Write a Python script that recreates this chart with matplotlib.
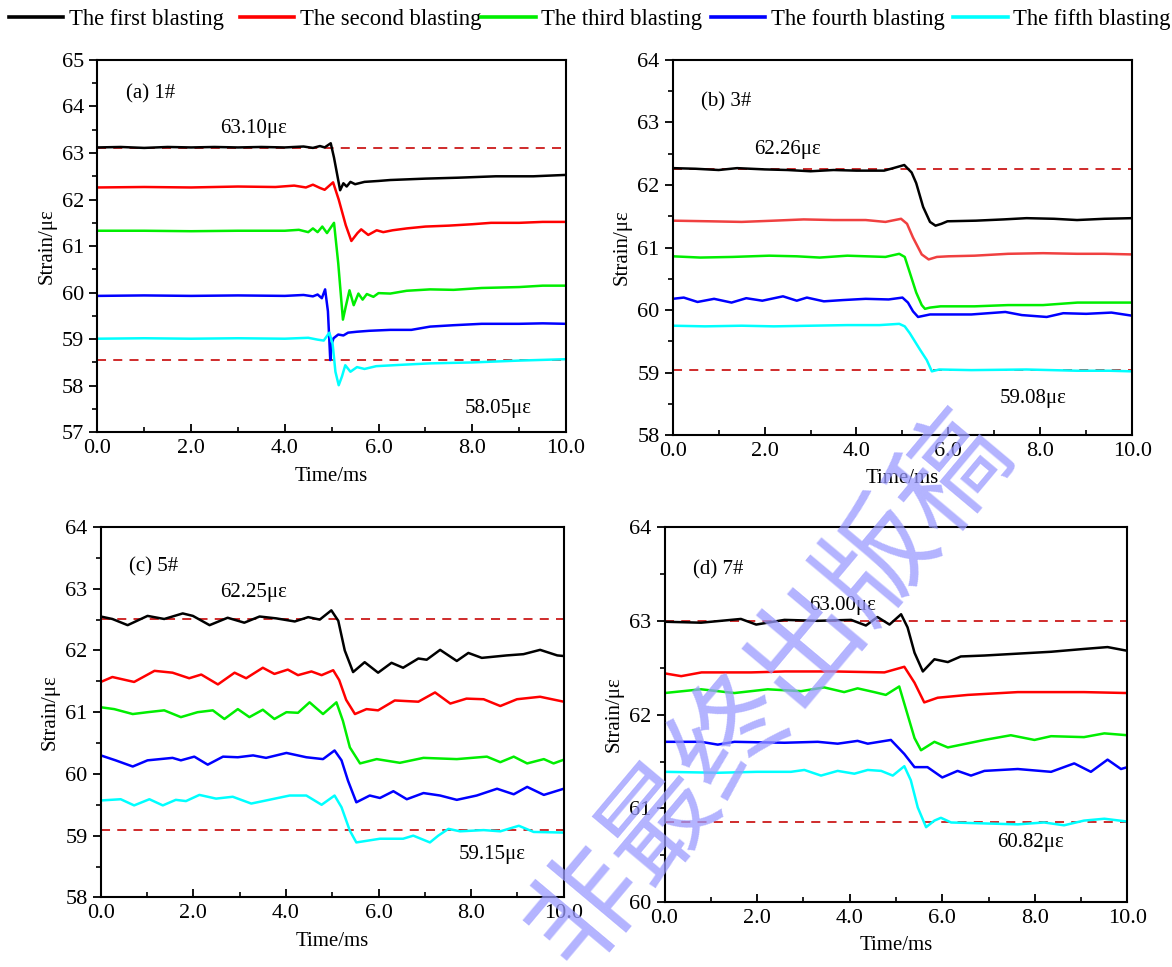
import matplotlib
matplotlib.use("Agg")
import matplotlib.pyplot as plt
from matplotlib.ticker import MultipleLocator, FormatStrFormatter

plt.rcParams["font.family"] = ["Liberation Serif", "DejaVu Serif"]

# ── Legend / series names ─────────────────────────────────────────────────────
SERIES = ["The first blasting", "The second blasting", "The third blasting",
          "The fourth blasting", "The fifth blasting"]
COLORS = ["#000000", "#ff0000", "#00ee00", "#0000ff", "#00ffff"]

# ── (a) 1# ───────────────────────────────────────────────────────────────────
a_black_t = [0, 0.5, 1, 1.5, 2, 2.5, 3, 3.5, 4, 4.4, 4.6, 4.75, 4.85, 4.98, 5.05, 5.18,
             5.25, 5.32, 5.4, 5.5, 5.7, 6.0, 6.25, 7.0, 7.7, 8.5, 9.3, 10]
a_black_v = [63.12, 63.13, 63.11, 63.13, 63.12, 63.13, 63.12, 63.13, 63.12, 63.14, 63.11,
             63.15, 63.12, 63.21, 62.9, 62.2, 62.35, 62.28, 62.38, 62.33, 62.38, 62.4,
             62.42, 62.45, 62.47, 62.5, 62.5, 62.53]
a_red_t = [0, 1, 2, 3, 3.8, 4.2, 4.45, 4.6, 4.75, 4.85, 5.03, 5.15, 5.3, 5.42, 5.55, 5.63,
           5.78, 5.96, 6.1, 6.3, 6.6, 7.0, 7.5, 8.0, 8.4, 9.0, 9.5, 10]
a_red_v = [62.26, 62.27, 62.26, 62.28, 62.27, 62.3, 62.26, 62.32, 62.25, 62.21, 62.37,
           62.0, 61.45, 61.11, 61.28, 61.36, 61.24, 61.34, 61.3, 61.34, 61.38, 61.42,
           61.44, 61.47, 61.5, 61.5, 61.52, 61.52]
a_green_t = [0, 1, 2, 3, 4, 4.3, 4.5, 4.6, 4.7, 4.8, 4.9, 5.05, 5.14, 5.2, 5.24, 5.3,
             5.38, 5.47, 5.57, 5.66, 5.75, 5.89, 6.0, 6.25, 6.6, 7.1, 7.6, 8.2, 9, 9.5, 10]
a_green_v = [61.33, 61.33, 61.32, 61.33, 61.33, 61.35, 61.3, 61.38, 61.3, 61.42, 61.28,
             61.5, 60.63, 59.9, 59.42, 59.7, 60.05, 59.73, 59.98, 59.85, 59.97, 59.91,
             59.99, 59.98, 60.04, 60.07, 60.06, 60.1, 60.12, 60.15, 60.15]
a_blue_t = [0, 1, 2, 3, 4, 4.4, 4.6, 4.7, 4.79, 4.86, 4.92, 4.97, 5.0, 5.04, 5.14, 5.25,
            5.35, 5.54, 5.8, 6.25, 6.7, 7.1, 7.6, 8.2, 9, 9.5, 10]
a_blue_v = [59.93, 59.94, 59.93, 59.94, 59.93, 59.95, 59.92, 59.96, 59.88, 60.07, 59.6,
            58.55, 58.9, 59.02, 59.1, 59.08, 59.14, 59.16, 59.18, 59.2, 59.2, 59.27, 59.3,
            59.33, 59.33, 59.34, 59.33]
a_cyan_t = [0, 1, 2, 3, 4, 4.5, 4.7, 4.83, 4.95, 5.02, 5.08, 5.15, 5.22, 5.29, 5.4, 5.54,
            5.7, 5.95, 6.5, 7.1, 8, 9, 10]
a_cyan_v = [59.01, 59.02, 59.01, 59.02, 59.01, 59.03, 58.99, 58.97, 59.14, 58.9, 58.3,
            58.01, 58.2, 58.44, 58.3, 58.4, 58.36, 58.42, 58.45, 58.48, 58.5, 58.54, 58.57]
a_limits = [63.10, 58.55]

# ── (b) 3# ───────────────────────────────────────────────────────────────────
b_black_t = [0, 0.5, 1, 1.4, 2, 2.5, 3, 3.5, 4, 4.6, 4.8, 5.04, 5.2, 5.3, 5.45, 5.6, 5.72,
             5.85, 5.98, 6.6, 7.2, 7.7, 8.3, 8.8, 9.4, 10]
b_black_v = [62.27, 62.26, 62.24, 62.27, 62.25, 62.24, 62.22, 62.24, 62.23, 62.23, 62.27,
             62.32, 62.2, 62.03, 61.65, 61.41, 61.35, 61.38, 61.42, 61.43, 61.45, 61.47,
             61.46, 61.44, 61.46, 61.47]
b_red_t = [0, 0.8, 1.5, 2.2, 2.85, 3.5, 4.2, 4.63, 4.97, 5.1, 5.23, 5.42, 5.57, 5.75, 6,
           6.57, 7.3, 8.06, 8.8, 9.4, 10]
b_red_v = [61.43, 61.42, 61.41, 61.43, 61.45, 61.44, 61.44, 61.41, 61.46, 61.38, 61.16,
           60.89, 60.81, 60.85, 60.86, 60.87, 60.9, 60.91, 60.9, 60.9, 60.89]
b_green_t = [0, 0.6, 1.3, 2.1, 2.7, 3.2, 3.8, 4.63, 4.93, 5.05, 5.16, 5.3, 5.42, 5.49, 5.6,
             5.83, 6.57, 7.3, 8.06, 8.81, 9.4, 10]
b_green_v = [60.86, 60.84, 60.85, 60.87, 60.86, 60.84, 60.87, 60.85, 60.9, 60.85, 60.6,
             60.28, 60.08, 60.02, 60.04, 60.06, 60.06, 60.08, 60.08, 60.12, 60.12, 60.12]
b_blue_t = [0, 0.24, 0.54, 0.9, 1.28, 1.6, 1.95, 2.4, 2.7, 2.92, 3.29, 3.7, 4.2, 4.7, 5.0,
            5.12, 5.23, 5.34, 5.6, 6.5, 7.24, 7.6, 8.14, 8.5, 9, 9.55, 10]
b_blue_v = [60.18, 60.2, 60.13, 60.18, 60.12, 60.19, 60.15, 60.22, 60.15, 60.2, 60.14,
            60.16, 60.18, 60.17, 60.2, 60.12, 59.98, 59.89, 59.93, 59.93, 59.97, 59.92,
            59.89, 59.95, 59.94, 59.96, 59.91]
b_cyan_t = [0, 0.7, 1.5, 2.2, 3, 3.8, 4.5, 4.93, 5.05, 5.16, 5.38, 5.53, 5.64, 5.8, 6.5,
            7.7, 8.8, 9.5, 10]
b_cyan_v = [59.75, 59.74, 59.75, 59.74, 59.75, 59.76, 59.76, 59.78, 59.74, 59.63, 59.37,
            59.2, 59.02, 59.05, 59.04, 59.05, 59.03, 59.03, 59.02]
b_limits = [62.26, 59.04]

# ── (c) 5# ───────────────────────────────────────────────────────────────────
c_black_t = [0, 0.25, 0.58, 1.01, 1.37, 1.77, 1.99, 2.35, 2.74, 3.1, 3.43, 3.79, 4.19, 4.48,
             4.73, 4.98, 5.13, 5.27, 5.45, 5.7, 5.99, 6.28, 6.53, 6.86, 7.04, 7.33, 7.69,
             7.94, 8.23, 8.77, 9.13, 9.49, 9.86, 10]
c_black_v = [62.55, 62.51, 62.41, 62.56, 62.51, 62.6, 62.56, 62.41, 62.53, 62.45, 62.55,
             62.52, 62.47, 62.54, 62.5, 62.65, 62.48, 62.0, 61.65, 61.81, 61.64, 61.8,
             61.72, 61.87, 61.85, 62.01, 61.83, 61.96, 61.88, 61.92, 61.94, 62.01, 61.92,
             61.91]
c_red_t = [0, 0.25, 0.72, 1.16, 1.55, 1.91, 2.17, 2.53, 2.89, 3.14, 3.5, 3.75, 4.04, 4.26,
           4.55, 4.77, 5.02, 5.15, 5.3, 5.49, 5.74, 5.99, 6.35, 6.86, 7.22, 7.55, 7.9, 8.27,
           8.63, 8.99, 9.49, 10]
c_red_v = [61.49, 61.57, 61.49, 61.67, 61.64, 61.55, 61.61, 61.45, 61.64, 61.55, 61.72,
           61.62, 61.69, 61.6, 61.66, 61.6, 61.68, 61.52, 61.2, 60.97, 61.05, 61.03, 61.19,
           61.17, 61.32, 61.14, 61.22, 61.21, 61.1, 61.21, 61.25, 61.17]
c_green_t = [0, 0.29, 0.69, 1.01, 1.37, 1.73, 2.09, 2.42, 2.67, 2.96, 3.21, 3.5, 3.75, 4.01,
             4.26, 4.51, 4.8, 5.09, 5.23, 5.38, 5.6, 5.96, 6.46, 6.97, 7.69, 8.34, 8.63,
             8.92, 9.21, 9.57, 9.78, 10]
c_green_v = [61.08, 61.05, 60.97, 61.0, 61.03, 60.92, 61.0, 61.03, 60.89, 61.05, 60.92,
             61.04, 60.89, 61.0, 60.99, 61.16, 60.97, 61.16, 60.86, 60.43, 60.17, 60.24,
             60.18, 60.26, 60.24, 60.28, 60.19, 60.28, 60.17, 60.24, 60.17, 60.23]
c_blue_t = [0, 0.32, 0.69, 1.01, 1.55, 1.73, 2.02, 2.31, 2.64, 2.96, 3.29, 3.57, 4.01, 4.44,
            4.8, 5.05, 5.2, 5.34, 5.52, 5.81, 6.03, 6.32, 6.61, 6.97, 7.33, 7.69, 8.12, 8.56,
            8.92, 9.21, 9.57, 10]
c_blue_v = [60.3, 60.22, 60.12, 60.22, 60.26, 60.22, 60.28, 60.15, 60.28, 60.27, 60.3,
            60.26, 60.34, 60.27, 60.24, 60.38, 60.22, 59.89, 59.54, 59.65, 59.61, 59.72,
            59.59, 59.69, 59.65, 59.58, 59.65, 59.76, 59.67, 59.79, 59.66, 59.76]
c_cyan_t = [0, 0.43, 0.72, 1.05, 1.34, 1.62, 1.84, 2.13, 2.49, 2.85, 3.25, 3.57, 4.08, 4.44,
            4.77, 5.05, 5.2, 5.38, 5.52, 6.03, 6.53, 6.75, 7.11, 7.29, 7.51, 7.76, 8.27, 8.63,
            9.03, 9.35, 10]
c_cyan_v = [59.57, 59.59, 59.49, 59.59, 59.49, 59.58, 59.56, 59.66, 59.6, 59.63, 59.52,
            59.57, 59.65, 59.65, 59.5, 59.65, 59.46, 59.08, 58.89, 58.95, 58.95, 59.0, 58.89,
            59.0, 59.11, 59.07, 59.09, 59.07, 59.16, 59.06, 59.05]
c_limits = [62.51, 59.09]

# ── (d) 7# ───────────────────────────────────────────────────────────────────
d_black_t = [0, 0.79, 1.65, 1.98, 2.59, 3.31, 4.03, 4.35, 4.6, 4.86, 5.11, 5.25, 5.4, 5.58,
             5.83, 6.12, 6.4, 6.91, 7.63, 8.35, 9.06, 9.57, 10]
d_black_v = [62.99, 62.98, 63.02, 62.96, 63.01, 63.0, 63.01, 62.95, 63.04, 62.96, 63.07,
             62.93, 62.66, 62.46, 62.59, 62.56, 62.62, 62.63, 62.65, 62.67, 62.7, 62.72,
             62.68]
d_red_t = [0, 0.36, 0.8, 1.87, 2.6, 3.67, 4.75, 5.18, 5.4, 5.61, 5.9, 6.55, 7.63, 9.06, 10]
d_red_v = [62.44, 62.41, 62.45, 62.45, 62.46, 62.46, 62.45, 62.51, 62.34, 62.13, 62.18,
           62.21, 62.24, 62.24, 62.23]
d_green_t = [0, 0.79, 1.51, 2.23, 2.95, 3.45, 3.88, 4.17, 4.53, 4.78, 5.07, 5.22, 5.4, 5.54,
             5.83, 6.12, 6.91, 7.48, 7.99, 8.35, 9.06, 9.5, 10]
d_green_v = [62.23, 62.27, 62.23, 62.27, 62.25, 62.29, 62.24, 62.28, 62.24, 62.21, 62.3,
             62.05, 61.75, 61.62, 61.71, 61.65, 61.73, 61.78, 61.73, 61.77, 61.76, 61.8,
             61.78]
d_blue_t = [0, 0.79, 1.15, 1.51, 2.59, 3.31, 3.74, 4.17, 4.39, 4.89, 5.18, 5.4, 5.68, 6.0,
            6.33, 6.62, 6.91, 7.63, 8.35, 8.85, 9.21, 9.57, 9.86, 10]
d_blue_v = [61.71, 61.71, 61.68, 61.71, 61.7, 61.71, 61.69, 61.72, 61.69, 61.73, 61.58,
            61.44, 61.44, 61.33, 61.4, 61.35, 61.4, 61.42, 61.39, 61.48, 61.39, 61.52, 61.42,
            61.44]
d_cyan_t = [0, 1.15, 2.0, 2.73, 3.02, 3.38, 3.74, 4.1, 4.39, 4.68, 4.93, 5.18, 5.32, 5.47,
            5.65, 5.83, 5.97, 6.19, 6.91, 7.63, 8.2, 8.63, 9.06, 9.5, 10]
d_cyan_v = [61.39, 61.38, 61.39, 61.39, 61.41, 61.35, 61.4, 61.37, 61.41, 61.4, 61.35,
            61.45, 61.3, 61.01, 60.8, 60.87, 60.9, 60.85, 60.84, 60.83, 60.85, 60.82, 60.87,
            60.89, 60.86]
d_limits = [63.00, 60.86]

# ── Panel setup ──────────────────────────────────────────────────────────────
PANELS = [
    dict(tag="(a) 1#", ylim=(57, 65), limits=a_limits,
         curves=[(a_black_t, a_black_v), (a_red_t, a_red_v), (a_green_t, a_green_v),
                 (a_blue_t, a_blue_v), (a_cyan_t, a_cyan_v)],
         notes=[("63.10με", 3.33, 63.52), ("58.05με", 8.55, 57.52)],
         rect=[0.083, 0.553, 0.400, 0.385], tagy=0.91),
    dict(tag="(b) 3#", ylim=(58, 64), limits=b_limits,
         curves=[(b_black_t, b_black_v), (b_red_t, b_red_v), (b_green_t, b_green_v),
                 (b_blue_t, b_blue_v), (b_cyan_t, b_cyan_v)],
         notes=[("62.26με", 2.5, 62.57), ("59.08με", 7.85, 58.58)],
         rect=[0.574, 0.550, 0.392, 0.388], tagy=0.887, red="#f04040"),
    dict(tag="(c) 5#", ylim=(58, 64), limits=c_limits,
         curves=[(c_black_t, c_black_v), (c_red_t, c_red_v), (c_green_t, c_green_v),
                 (c_blue_t, c_blue_v), (c_cyan_t, c_cyan_v)],
         notes=[("62.25με", 3.3, 62.94), ("59.15με", 8.45, 58.70)],
         rect=[0.086, 0.072, 0.395, 0.383], tagy=0.893),
    dict(tag="(d) 7#", ylim=(60, 64), limits=d_limits,
         curves=[(d_black_t, d_black_v), (d_red_t, d_red_v), (d_green_t, d_green_v),
                 (d_blue_t, d_blue_v), (d_cyan_t, d_cyan_v)],
         notes=[("63.00με", 3.85, 63.16), ("60.82με", 7.9, 60.64)],
         rect=[0.567, 0.067, 0.395, 0.388], tagy=0.885),
]

fig = plt.figure(figsize=(11.72, 9.67), dpi=100)

for p in PANELS:
    ax = fig.add_axes(p["rect"])
    cols = list(COLORS)
    if "red" in p:
        cols[1] = p["red"]
    for (t, v), c in zip(p["curves"], cols):
        ax.plot(t, v, color=c, lw=1.8, solid_joinstyle="round")
    for y in p["limits"]:
        ax.axhline(y, color="#cc1a1a", lw=1.3, ls=(0, (5, 4)), zorder=1)
    for txt, x, y in p["notes"]:
        ax.text(x, y, txt, ha="center", va="center", fontsize=15)
    ax.text(0.062, p["tagy"], p["tag"], transform=ax.transAxes, ha="left",
            va="center", fontsize=15)

    ax.set_xlim(0, 10)
    ax.set_ylim(*p["ylim"])
    ax.xaxis.set_major_locator(MultipleLocator(2))
    ax.xaxis.set_minor_locator(MultipleLocator(1))
    ax.xaxis.set_major_formatter(FormatStrFormatter("%.1f"))
    ax.yaxis.set_major_locator(MultipleLocator(1))
    ax.yaxis.set_minor_locator(MultipleLocator(0.5))
    ax.tick_params(axis="x", which="both", direction="in", labelsize=16, pad=5)
    ax.tick_params(axis="y", which="both", direction="out", labelsize=16)
    ax.tick_params(which="major", length=6, width=1.3)
    ax.tick_params(which="minor", length=3.5, width=1.2)
    for s in ax.spines.values():
        s.set_linewidth(1.5)
    ax.set_xlabel("Time/ms", fontsize=15, labelpad=6)
    ax.set_ylabel("Strain/με", fontsize=15, labelpad=4)

# legend across the top: one entry per block, spaced as in the source figure
LEG_X = [0.0015, 0.199, 0.405, 0.6005, 0.8075]
for name, c, x0 in zip(SERIES, COLORS, LEG_X):
    h = plt.Line2D([], [], color=c, lw=2.6, label=name)
    fig.legend(handles=[h], loc="upper left", bbox_to_anchor=(x0, 0.998),
               frameon=False, fontsize=16.3, handlelength=2.4, handletextpad=0.25,
               borderpad=0.3, borderaxespad=0.0)

# watermark of the source
fig.text(0.657, 0.287, "非最终出版稿", rotation=50, ha="center", va="center",
         fontsize=82, color="#9a9aff", alpha=0.75, family=["Noto Sans CJK SC"],
         zorder=10)

fig.savefig("out.png", dpi=100)
